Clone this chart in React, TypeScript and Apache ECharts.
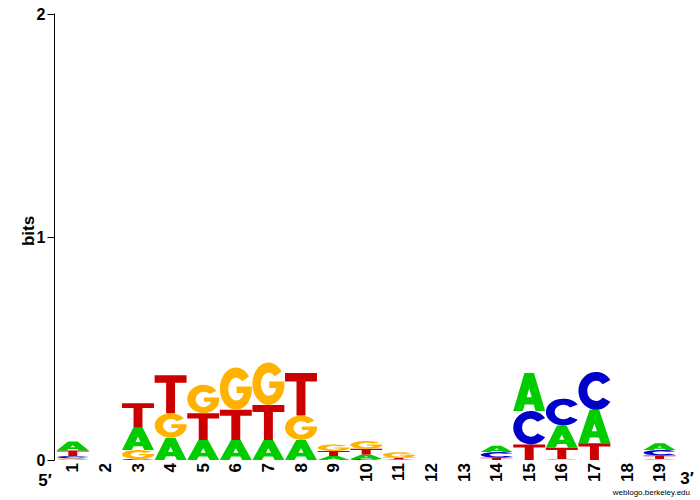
import React, { useEffect, useRef } from "react";
import * as echarts from "echarts";

const positions = ["1","2","3","4","5","6","7","8","9","10","11","12","13","14","15","16","17","18","19"];
const aBits = [0.04, 0, 0.10, 0.10, 0.09, 0.09, 0.09, 0.09, 0.018, 0.02, 0.003, 0, 0, 0.028, 0.17, 0.10, 0.15, 0, 0.03];
const cBits = [0.01, 0, 0.005, 0, 0, 0, 0, 0, 0, 0.005, 0, 0, 0, 0.026, 0.15, 0.12, 0.17, 0, 0.025];
const gBits = [0.008, 0, 0.04, 0.11, 0.127, 0.19, 0.19, 0.11, 0.03, 0.035, 0.025, 0, 0, 0, 0, 0.005, 0, 0, 0.005];
const tBits = [0.025, 0, 0.11, 0.17, 0.12, 0.135, 0.157, 0.19, 0.022, 0.025, 0.007, 0, 0, 0.01, 0.07, 0.05, 0.075, 0, 0.015];
const yTicks = [0, 1, 2];

const GLYPH: Record<string, string> = {
  A: "M0,100 L35,0 L65,0 L100,100 L70,100 L64,83 L36,83 L30,100 Z M42,64 L58,64 L50,41 Z",
  T: "M0,0 L100,0 L100,20 L64,20 L64,100 L36,100 L36,20 L0,20 Z",
  C: "M90.96,21.32 A50,50 0 1 0 90.96,78.68 L69.15,67.35 A25,27 0 1 1 69.15,32.65 Z",
  G: "M90.96,21.32 A50,50 0 1 0 99.24,58.68 L99.24,45 L52,45 L52,60 L73,60 L73,64 A25,27 0 1 1 69.15,32.65 Z",
};
const COLOR: Record<string, string> = {
  A: "#00CC00",
  C: "#0000CC",
  G: "#FFB300",
  T: "#CC0000",
};
const ORDER = ["G", "C", "T", "A"];

export default function App() {
  const ref = useRef<HTMLDivElement>(null);
  useEffect(() => {
    if (!ref.current) return;
    const chart = echarts.init(ref.current, null, { renderer: "svg" });
    const bits: Record<string, number[]> = { A: aBits, C: cBits, G: gBits, T: tBits };
    const font = "Liberation Sans";
    chart.setOption({
      animation: false,
      grid: { left: 56.5, right: 24.1, top: 14, bottom: 40 },
      xAxis: {
        type: "category",
        data: positions,
        axisLine: { show: false },
        axisTick: { show: false },
        axisLabel: {
          interval: 0,
          rotate: 90,
          margin: 3,
          fontSize: 17,
          fontWeight: "bold",
          color: "#000",
          fontFamily: font,
        },
      },
      yAxis: {
        type: "value",
        min: yTicks[0],
        max: yTicks[yTicks.length - 1],
        interval: 1,
        offset: 2,
        axisLine: { show: true, lineStyle: { color: "#000", width: 1 } },
        axisTick: { show: true, length: 7, lineStyle: { color: "#000" } },
        splitLine: { show: false },
        axisLabel: {
          margin: 9,
          fontSize: 16,
          fontWeight: "bold",
          color: "#000",
          fontFamily: font,
        },
      },
      graphic: [
        {
          type: "text",
          x: 28,
          y: 231,
          rotation: Math.PI / 2,
          style: {
            text: "bits",
            fontSize: 17,
            fontWeight: "bold",
            fontFamily: font,
            fill: "#000",
            align: "center",
            verticalAlign: "middle",
          },
        },
        {
          type: "text",
          x: 45,
          y: 480,
          style: {
            text: "5′",
            fontSize: 17,
            fontWeight: "bold",
            fontFamily: font,
            fill: "#000",
            align: "center",
            verticalAlign: "middle",
          },
        },
        {
          type: "text",
          x: 687,
          y: 478,
          style: {
            text: "3′",
            fontSize: 17,
            fontWeight: "bold",
            fontFamily: font,
            fill: "#000",
            align: "center",
            verticalAlign: "middle",
          },
        },
        {
          type: "text",
          x: 690,
          y: 492,
          style: {
            text: "weblogo.berkeley.edu",
            fontSize: 8,
            fontFamily: font,
            fill: "#000",
            align: "right",
            verticalAlign: "middle",
          },
        },
      ],
      series: [
        {
          type: "custom",
          data: positions.map((_, i) => [i, aBits[i] + cBits[i] + gBits[i] + tBits[i]]),
          encode: { x: 0, y: 1 },
          renderItem: (params: any, api: any) => {
            const i = api.value(0);
            const letters = ORDER.map((k) => ({ k, h: bits[k][i] }))
              .filter((l) => l.h > 0)
              .sort((a, b) => a.h - b.h);
            const band = api.size([1, 0])[0];
            const w = band * 0.98;
            const x0 = api.coord([i, 0])[0] - w / 2;
            let cum = 0;
            const children = letters.map((l) => {
              const yBot = api.coord([i, cum])[1];
              const yTop = api.coord([i, cum + l.h])[1];
              cum += l.h;
              return {
                type: "path",
                shape: {
                  pathData: GLYPH[l.k],
                  x: x0,
                  y: yTop,
                  width: w,
                  height: yBot - yTop,
                  layout: "cover",
                },
                style: { fill: COLOR[l.k] },
              };
            });
            return { type: "group", children };
          },
        },
      ],
    });
    return () => chart.dispose();
  }, []);
  return (
    <div
      ref={ref}
      style={{ position: "fixed", left: 0, top: 0, width: 700, height: 500, background: "#fff" }}
    />
  );
}
